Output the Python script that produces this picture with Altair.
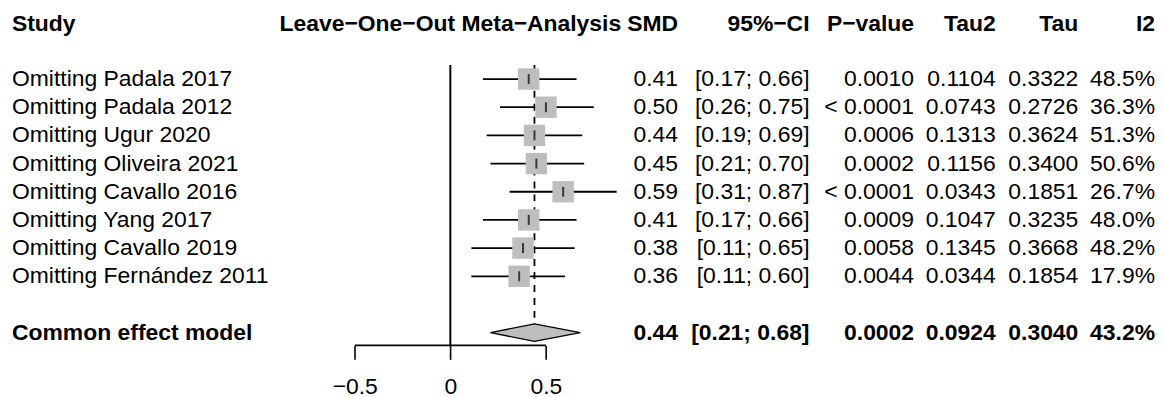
import altair as alt
import pandas as pd

# ---------------- data ----------------
studies = [
    "Omitting Padala 2017", "Omitting Padala 2012", "Omitting Ugur 2020",
    "Omitting Oliveira 2021", "Omitting Cavallo 2016", "Omitting Yang 2017",
    "Omitting Cavallo 2019", "Omitting Fernández 2011",
]
smd = [0.41, 0.50, 0.44, 0.45, 0.59, 0.41, 0.38, 0.36]
ci_lo = [0.17, 0.26, 0.19, 0.21, 0.31, 0.17, 0.11, 0.11]
ci_hi = [0.66, 0.75, 0.69, 0.70, 0.87, 0.66, 0.65, 0.60]
pval = ["0.0010", "< 0.0001", "0.0006", "0.0002", "< 0.0001", "0.0009", "0.0058", "0.0044"]
tau2 = [0.1104, 0.0743, 0.1313, 0.1156, 0.0343, 0.1047, 0.1345, 0.0344]
tau = [0.3322, 0.2726, 0.3624, 0.3400, 0.1851, 0.3235, 0.3668, 0.1854]
i2 = [48.5, 36.3, 51.3, 50.6, 26.7, 48.0, 48.2, 17.9]

pooled_label = "Common effect model"
pooled_smd, pooled_lo, pooled_hi = 0.44, 0.21, 0.68
pooled_p, pooled_tau2, pooled_tau, pooled_i2 = "0.0002", 0.0924, 0.3040, 43.2

headers = ["Study", "SMD", "95%−CI", "P−value", "Tau2", "Tau", "I2"]
plot_header = "Leave−One−Out Meta−Analysis"
x_ticks = [-0.5, 0, 0.5]

# ---------------- layout / style ----------------
FONT = "Liberation Sans"
FS = 23
H = 338
ROW_TOP, ROW_BOT = -2.491, 9.452
HEADER_ROW = -1.95
POOLED_ROW = 9
GRAY = "#BEBEBE"
DIAMOND_HALF = 0.31

rows = list(range(len(studies)))

recs = []
recs.append(dict(row=HEADER_ROW, bold=True, Study=headers[0], SMD=headers[1], CI=headers[2],
                 P=headers[3], Tau2=headers[4], Tau=headers[5], I2=headers[6]))
for r, s, e, l, h, p, t2, t, ii in zip(rows, studies, smd, ci_lo, ci_hi, pval, tau2, tau, i2):
    recs.append(dict(row=r, bold=False, Study=s, SMD=f"{e:.2f}", CI=f"[{l:.2f}; {h:.2f}]",
                     P=p, Tau2=f"{t2:.4f}", Tau=f"{t:.4f}", I2=f"{ii:.1f}%"))
recs.append(dict(row=POOLED_ROW, bold=True, Study=pooled_label, SMD=f"{pooled_smd:.2f}",
                 CI=f"[{pooled_lo:.2f}; {pooled_hi:.2f}]", P=pooled_p, Tau2=f"{pooled_tau2:.4f}",
                 Tau=f"{pooled_tau:.4f}", I2=f"{pooled_i2:.1f}%"))
table = pd.DataFrame(recs)

ys = alt.Scale(domain=[ROW_TOP, ROW_BOT], reverse=True, nice=False, zero=False)


def Y(field):
    return alt.Y(f"{field}:Q", scale=ys, axis=None)


def text_col(field, width, align, xpos):
    base = alt.Chart(table).encode(y=Y("row"), text=f"{field}:N", x=alt.value(xpos))
    reg = base.transform_filter("!datum.bold").mark_text(
        align=align, baseline="middle", font=FONT, fontSize=FS, color="black")
    bld = base.transform_filter("datum.bold").mark_text(
        align=align, baseline="middle", font=FONT, fontSize=FS, color="black", fontWeight="bold")
    return alt.layer(reg, bld).properties(width=width, height=H)


# ---------------- forest panel ----------------
FW = 332
xs = alt.Scale(domain=[-0.793, 0.936], nice=False, zero=False)
xaxis = alt.Axis(values=x_ticks, format="~g", domain=False, grid=False, ticks=True,
                 tickSize=14, tickWidth=1.6, tickColor="black", labelFont=FONT,
                 labelFontSize=FS, labelColor="black", labelPadding=16, labelFlush=False,
                 title=None)


def X(field):
    return alt.X(f"{field}:Q", scale=xs, axis=xaxis)


studies_df = pd.DataFrame(dict(row=rows, smd=smd, lo=ci_lo, hi=ci_hi))
ref_df = pd.DataFrame(dict(x=[0.0], y1=[-0.5]))
fixed_df = pd.DataFrame(dict(x=[pooled_smd], y1=[-0.5], y2=[POOLED_ROW - DIAMOND_HALF]))
diamond_df = pd.DataFrame(dict(
    x=[pooled_lo, pooled_smd, pooled_hi],
    ytop=[POOLED_ROW, POOLED_ROW - DIAMOND_HALF, POOLED_ROW],
    ybot=[POOLED_ROW, POOLED_ROW + DIAMOND_HALF, POOLED_ROW],
))
axis_df = pd.DataFrame(dict(x1=[min(x_ticks)], x2=[max(x_ticks)]))
head_df = pd.DataFrame(dict(x=[0.0], row=[HEADER_ROW], label=[plot_header]))

zero_line = alt.Chart(ref_df).mark_rule(color="black", strokeWidth=2).encode(
    x=X("x"), y=Y("y1"), y2=alt.value(H))
fixed_line = alt.Chart(fixed_df).mark_rule(color="black", strokeWidth=1.8, strokeDash=[7, 6]).encode(
    x=X("x"), y=Y("y1"), y2="y2:Q")
ci_lines = alt.Chart(studies_df).mark_rule(color="black", strokeWidth=1.8).encode(
    x=X("lo"), x2="hi:Q", y=Y("row"))
squares = alt.Chart(studies_df).mark_square(size=462, color=GRAY, opacity=1).encode(
    x=X("smd"), y=Y("row"))
ticks = alt.Chart(studies_df).mark_tick(orient="vertical", size=10, thickness=2, color="black").encode(
    x=X("smd"), y=Y("row"))
diamond = alt.Chart(diamond_df).mark_area(orient="vertical", fill=GRAY, stroke="black",
                                          strokeWidth=1.3, opacity=1).encode(
    x=X("x"), y=Y("ytop"), y2="ybot:Q")
axis_line = alt.Chart(axis_df).mark_rule(color="black", strokeWidth=1.6).encode(
    x=X("x1"), x2="x2:Q", y=alt.value(H))
header = alt.Chart(head_df).mark_text(align="center", baseline="middle", font=FONT, fontSize=FS,
                                      fontWeight="bold", color="black").encode(
    x=X("x"), y=Y("row"), text="label:N")

forest = alt.layer(zero_line, fixed_line, ci_lines, squares, ticks, diamond, axis_line, header
                   ).properties(width=FW, height=H)

chart = alt.hconcat(
    text_col("Study", 292, "left", 4),
    forest,
    text_col("SMD", 49, "right", 49),
    text_col("CI", 132, "right", 132),
    text_col("P", 105, "right", 105),
    text_col("Tau2", 82, "right", 82),
    text_col("Tau", 83, "right", 83),
    text_col("I2", 77, "right", 77),
    spacing=0,
    bounds="flush",
    padding=0,
).configure_view(stroke=None)

chart.save("out.html", embed_options={"renderer": "svg", "actions": False})
